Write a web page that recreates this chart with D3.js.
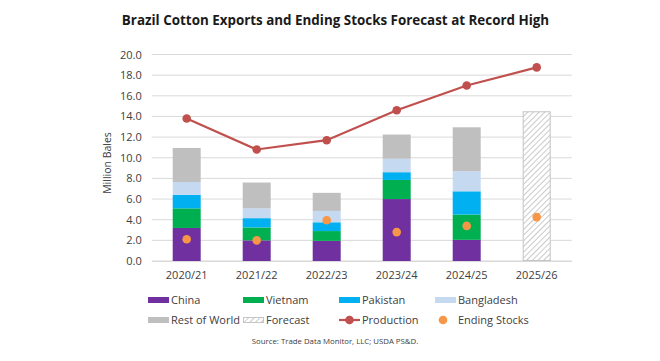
<!DOCTYPE html>
<html><head><meta charset="utf-8">
<script src="https://cdn.jsdelivr.net/npm/d3@7"></script>
<style>body{margin:0;background:#fff}svg{display:block}</style>
</head><body>
<script>
const years = ["2020/21","2021/22","2022/23","2023/24","2024/25","2025/26"];
const china      = [3.2, 2.0, 1.95, 6.0, 2.05, null];
const vietnam    = [1.9, 1.25, 0.95, 1.85, 2.45, null];
const pakistan   = [1.3, 0.9, 0.85, 0.75, 2.25, null];
const bangladesh = [1.25, 0.95, 1.1, 1.3, 1.95, null];
const restOfWorld= [3.3, 2.5, 1.75, 2.35, 4.25, null];
const forecast   = [null, null, null, null, null, 14.5];
const production = [13.8, 10.8, 11.7, 14.6, 17.0, 18.75];
const endingStocks = [2.1, 2.0, 3.95, 2.8, 3.4, 4.25];
const yTicks = [0,2,4,6,8,10,12,14,16,18,20];

const W=660,H=361;
const svg=d3.select("body").append("svg").attr("width",W).attr("height",H);
const defs=svg.append("defs");
const pat=defs.append("pattern").attr("id","hatch").attr("patternUnits","userSpaceOnUse")
  .attr("width",4).attr("height",4).attr("patternTransform","rotate(45)");
pat.append("rect").attr("width",4).attr("height",4).attr("fill","#fff");
pat.append("line").attr("x1",0).attr("y1",0).attr("x2",0).attr("y2",4).attr("stroke","#b8b8b8").attr("stroke-width",1.5);

const font="'Open Sans', 'Liberation Sans', sans-serif";
const x=d3.scaleBand().domain(years).range([151.7,571.7]).paddingInner(0.6).paddingOuter(0.3);
const y=d3.scaleLinear().domain([0,20]).range([261,54.5]);

svg.append("text").attr("x",335.5).attr("y",25).attr("text-anchor","middle")
  .attr("font-family",font).attr("font-weight",700).attr("font-size",13.4).attr("fill","#1a1a1a")
  .text("Brazil Cotton Exports and Ending Stocks Forecast at Record High");

// grid
svg.append("g").selectAll("line").data(yTicks).join("line")
  .attr("x1",151.7).attr("x2",571.7).attr("y1",d=>y(d)).attr("y2",d=>y(d))
  .attr("stroke","#d9d9d9").attr("stroke-width",1);

const yAxis=svg.append("g").attr("transform","translate(151.7,0)")
  .call(d3.axisLeft(y).tickValues(yTicks).tickFormat(d3.format(".1f")).tickSize(0).tickPadding(10));
yAxis.select(".domain").remove();
yAxis.selectAll("text").attr("font-family",font).attr("font-size",11).attr("fill","#404040");

const xAxis=svg.append("g").attr("transform","translate(0,261)")
  .call(d3.axisBottom(x).tickSize(0).tickPadding(10));
xAxis.select(".domain").attr("stroke","#d9d9d9");
xAxis.selectAll("text").attr("font-family",font).attr("font-size",11).attr("fill","#404040");

svg.append("text").attr("transform","translate(111,163) rotate(-90)").attr("text-anchor","middle")
  .attr("font-family",font).attr("font-size",10.5).attr("fill","#404040").text("Million Bales");

const seriesNames=["China","Vietnam","Pakistan","Bangladesh","Rest of World"];
const seriesVals=[china,vietnam,pakistan,bangladesh,restOfWorld];
const colors=["#7030A0","#00B050","#00B0F0","#C5D9F1","#BFBFBF"];
const rows=years.map((yr,i)=>{const o={year:yr};seriesNames.forEach((s,k)=>o[s]=seriesVals[k][i]||0);return o;});
const stack=d3.stack().keys(seriesNames)(rows);
svg.append("g").selectAll("g").data(stack).join("g").attr("fill",(d,i)=>colors[i])
  .selectAll("rect").data(d=>d.filter(p=>p[1]>p[0])).join("rect")
  .attr("x",d=>x(d.data.year)).attr("width",x.bandwidth())
  .attr("y",d=>y(d[1])).attr("height",d=>y(d[0])-y(d[1]));

svg.append("g").selectAll("rect").data(years.map((yr,i)=>({yr,v:forecast[i]})).filter(d=>d.v!=null)).join("rect")
  .attr("x",d=>x(d.yr)+0.5).attr("width",x.bandwidth()-1).attr("y",d=>y(d.v)+0.5).attr("height",d=>y(0)-y(d.v)-1)
  .attr("fill","url(#hatch)").attr("stroke","#c4c4c4").attr("stroke-width",1);

const cx=d=>x(d)+x.bandwidth()/2;
const line=d3.line().x((d,i)=>cx(years[i])).y(d=>y(d));
svg.append("path").datum(production).attr("d",line).attr("fill","none").attr("stroke","#C0504D").attr("stroke-width",2.2);
svg.append("g").selectAll("circle").data(production).join("circle")
  .attr("cx",(d,i)=>cx(years[i])).attr("cy",d=>y(d)).attr("r",4.3).attr("fill","#C0504D");
svg.append("g").selectAll("circle").data(endingStocks).join("circle")
  .attr("cx",(d,i)=>cx(years[i])).attr("cy",d=>y(d)).attr("r",4.3).attr("fill","#F79646");

// legend
const lg=svg.append("g").attr("font-family",font).attr("font-size",11).attr("fill","#404040");
const cols=[148,243,339,435], rowsY=[300,320];
const items=[
 {n:"China",t:"sw",c:colors[0]},{n:"Vietnam",t:"sw",c:colors[1]},{n:"Pakistan",t:"sw",c:colors[2]},{n:"Bangladesh",t:"sw",c:colors[3]},
 {n:"Rest of World",t:"sw",c:colors[4]},{n:"Forecast",t:"hatch"},{n:"Production",t:"line"},{n:"Ending Stocks",t:"dot"}];
items.forEach((it,i)=>{
  const gx=cols[i%4], gy=rowsY[Math.floor(i/4)];
  const g=lg.append("g");
  if(it.t==="sw") g.append("rect").attr("x",gx).attr("y",gy-3).attr("width",21).attr("height",6).attr("fill",it.c);
  if(it.t==="hatch") g.append("rect").attr("x",gx+0.5).attr("y",gy-2.5).attr("width",20).attr("height",5).attr("fill","url(#hatch)").attr("stroke","#c4c4c4").attr("stroke-width",1);
  if(it.t==="line"){g.append("line").attr("x1",gx).attr("x2",gx+21).attr("y1",gy).attr("y2",gy).attr("stroke","#C0504D").attr("stroke-width",2.2);
    g.append("circle").attr("cx",gx+10.5).attr("cy",gy).attr("r",4.3).attr("fill","#C0504D");}
  if(it.t==="dot") g.append("circle").attr("cx",gx+8).attr("cy",gy).attr("r",4.3).attr("fill","#F79646");
  g.append("text").attr("x",gx+23).attr("y",gy).attr("dy","0.35em").attr("fill","#404040").text(it.n);
});

svg.append("text").attr("x",335).attr("y",344).attr("text-anchor","middle").attr("font-family",font)
  .attr("font-size",7.8).attr("fill","#404040").text("Source: Trade Data Monitor, LLC; USDA PS&D.");
</script>
</body></html>
